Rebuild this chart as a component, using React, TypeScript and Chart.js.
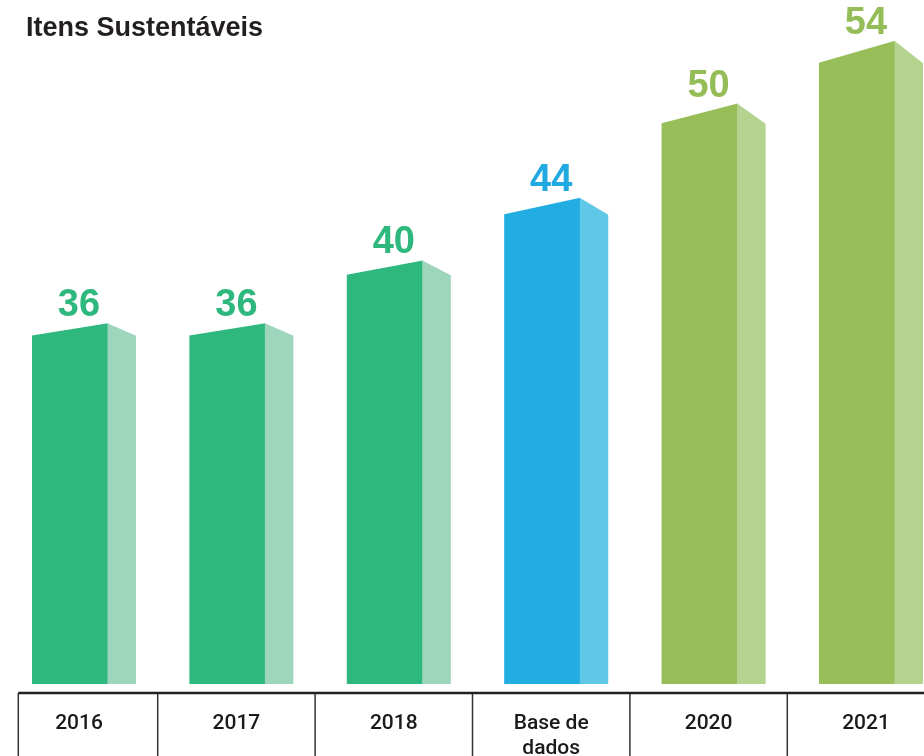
import React, { useEffect, useRef } from "react";
import { Chart, registerables } from "chart.js";

Chart.register(...registerables);

const chartTitle = "Itens Sustentáveis";
const categories: (string | string[])[] = ["2016", "2017", "2018", ["Base de", "dados"], "2020", "2021"];
const values = [36, 36, 40, 44, 50, 54];
const frontColors = ["#2EB87D", "#2EB87D", "#2EB87D", "#21ACE2", "#98BE5A", "#98BE5A"];
const sideColors = ["#9ED5BD", "#9ED5BD", "#9ED5BD", "#5EC8E6", "#B3D38F", "#B3D38F"];
const labelColors = ["#2EB87D", "#2EB87D", "#2EB87D", "#21A9E1", "#95BD57", "#95BD57"];

const bars3d = {
  id: "bars3d",
  afterDatasetsDraw(chart: any) {
    const ctx = chart.ctx;
    const meta = chart.getDatasetMeta(0);
    const xs = chart.scales.x;
    const ys = chart.scales.y;
    const base = ys.getPixelForValue(ys.min);
    const cw = xs.getPixelForValue(1) - xs.getPixelForValue(0);
    const frontW = cw * 0.483;
    const sideW = cw * 0.178;
    ctx.save();
    meta.data.forEach((el: any, i: number) => {
      const p = el.getProps(["x", "y"], true);
      const h = base - p.y;
      const left = p.x + 5 - (frontW + sideW) / 2;
      const right = left + frontW;
      const slant = h * 0.034;
      const drop = h * 0.035;
      ctx.fillStyle = frontColors[i];
      ctx.beginPath();
      ctx.moveTo(left, base);
      ctx.lineTo(left, p.y + slant);
      ctx.lineTo(right, p.y);
      ctx.lineTo(right, base);
      ctx.closePath();
      ctx.fill();
      ctx.fillStyle = sideColors[i];
      ctx.beginPath();
      ctx.moveTo(right - 0.5, p.y);
      ctx.lineTo(right + sideW, p.y + drop);
      ctx.lineTo(right + sideW, base);
      ctx.lineTo(right - 0.5, base);
      ctx.closePath();
      ctx.fill();
      ctx.fillStyle = labelColors[i];
      ctx.font = "bold 38px 'Liberation Sans', Arial, sans-serif";
      ctx.textAlign = "center";
      ctx.textBaseline = "alphabetic";
      ctx.fillText(String(values[i]), p.x, p.y - 7);
    });
    ctx.restore();
  },
  afterDraw(chart: any) {
    const ctx = chart.ctx;
    const xs = chart.scales.x;
    const area = chart.chartArea;
    const lineY = area.bottom + 9;
    const W = chart.width;
    const H = chart.height;
    ctx.save();
    ctx.fillStyle = "#231F20";
    ctx.font = "bold 27px 'Liberation Sans', Arial, sans-serif";
    ctx.textAlign = "left";
    ctx.textBaseline = "alphabetic";
    ctx.fillText(chartTitle, 26, 36);
    const n = categories.length;
    const step = xs.getPixelForValue(1) - xs.getPixelForValue(0);
    const tableLeft = xs.getPixelForValue(0) - step / 2 + 18;
    ctx.strokeStyle = "#333333";
    ctx.lineWidth = 1.5;
    ctx.beginPath();
    ctx.moveTo(tableLeft, lineY);
    ctx.lineTo(tableLeft, H);
    for (let i = 0; i < n - 1; i++) {
      const mx = (xs.getPixelForValue(i) + xs.getPixelForValue(i + 1)) / 2;
      ctx.moveTo(mx, lineY);
      ctx.lineTo(mx, H);
    }
    ctx.stroke();
    ctx.strokeStyle = "#231F20";
    ctx.lineWidth = 2.5;
    ctx.beginPath();
    ctx.moveTo(tableLeft, lineY);
    ctx.lineTo(W, lineY);
    ctx.stroke();
    ctx.restore();
  },
};

export default function App() {
  const canvasRef = useRef<HTMLCanvasElement | null>(null);

  useEffect(() => {
    if (!canvasRef.current) return;
    const chart = new Chart(canvasRef.current, {
      type: "bar",
      data: {
        labels: categories,
        datasets: [
          {
            data: values,
            backgroundColor: "rgba(0,0,0,0)",
            borderWidth: 0,
          },
        ],
      },
      options: {
        animation: false,
        responsive: true,
        maintainAspectRatio: false,
        layout: { padding: { left: 79, right: 58, top: 0, bottom: 0 } },
        plugins: {
          legend: { display: false },
          tooltip: { enabled: false },
          title: { display: false },
        },
        scales: {
          x: {
            type: "category",
            offset: false,
            grid: { display: false, drawTicks: false },
            border: { display: false },
            ticks: {
              padding: 27,
              color: "#1A1A1A",
              maxRotation: 0,
              autoSkip: false,
              font: { family: "Roboto, 'Liberation Sans', sans-serif", size: 21, weight: "500", lineHeight: 1.2 },
            },
            afterFit: (scale: any) => {
              scale.height = 72;
            },
          },
          y: {
            display: false,
            min: 13,
            max: 56.6,
          },
        },
      },
      plugins: [bars3d],
    });
    return () => chart.destroy();
  }, []);

  return (
    <div style={{ position: "fixed", left: 0, top: 0, width: 924, height: 756, overflow: "hidden", background: "#ffffff" }}>
      <canvas ref={canvasRef} />
    </div>
  );
}
